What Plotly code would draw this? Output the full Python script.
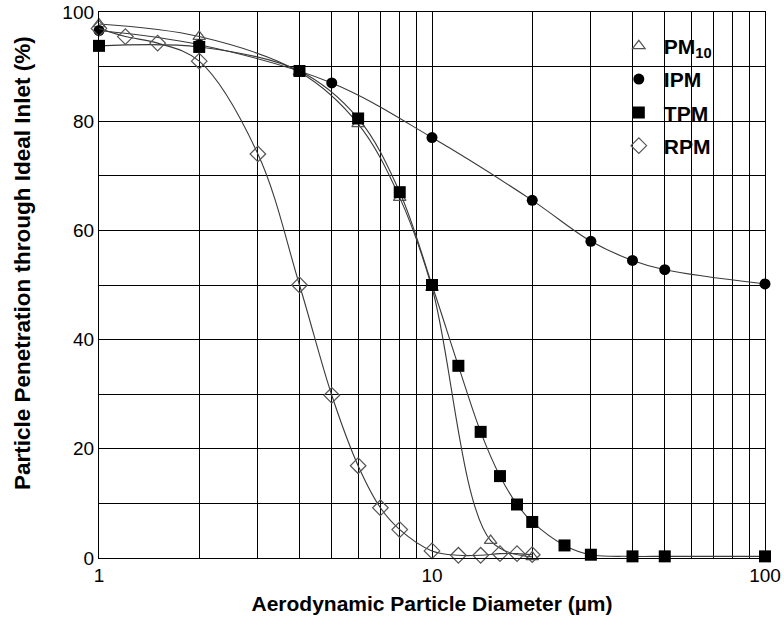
import plotly.graph_objects as go

# ---- data ----
pm10_x = [1, 2, 4, 6, 8, 10, 15, 20]
pm10_y = [97.8, 95.5, 89, 79.5, 66, 49.5, 3.2, 0.2]

ipm_x = [1, 2, 5, 10, 20, 30, 40, 50, 100]
ipm_y = [96.6, 94, 87, 77, 65.5, 58, 54.5, 52.8, 50.2]

tpm_x = [1, 2, 4, 6, 8, 10, 12, 14, 16, 18, 20, 25, 30, 40, 50, 100]
tpm_y = [93.8, 93.6, 89.2, 80.5, 67, 50, 35.2, 23.1, 15, 9.8, 6.6, 2.3, 0.6, 0.3, 0.3, 0.3]

rpm_x = [1, 1.2, 1.5, 2, 3, 4, 5, 6, 7, 8, 10, 12, 14, 16, 18, 20]
rpm_y = [97, 95.5, 94.3, 91, 74, 50, 29.8, 16.9, 9.2, 5.2, 1.3, 0.5, 0.5, 0.8, 0.8, 0.6]

series_names = ["PM<sub>10</sub>", "IPM", "TPM", "RPM"]

x_ticks = [1, 10, 100]
x_minor = [2, 3, 4, 5, 6, 7, 8, 9, 20, 30, 40, 50, 60, 70, 80, 90]

x_title = "Aerodynamic Particle Diameter (µm)"
y_title = "Particle Penetration through Ideal Inlet (%)"

LINE = "#3a3a3a"
OPEN = "#555555"

styles = [
    dict(symbol="triangle-up-open", size=11, color=OPEN, line=dict(color=OPEN, width=1.2)),
    dict(symbol="circle", size=11, color="black", line=dict(color="black", width=0)),
    dict(symbol="square", size=12, color="black", line=dict(color="black", width=0)),
    dict(symbol="diamond-open", size=12, color=OPEN, line=dict(color=OPEN, width=1.2)),
]

data = [(pm10_x, pm10_y), (ipm_x, ipm_y), (tpm_x, tpm_y), (rpm_x, rpm_y)]

fig = go.Figure()
for (xs, ys), st in zip(data, styles):
    fig.add_trace(go.Scatter(
        x=xs, y=ys, mode="lines+markers",
        line=dict(color=LINE, width=1.1, shape="spline", smoothing=1),
        marker=st, showlegend=False, cliponaxis=False,
    ))

for i, (name, st) in enumerate(zip(series_names, styles)):
    fig.add_trace(go.Scatter(
        x=[None], y=[None], mode="markers", name=name,
        marker=st, showlegend=True, legendgroup=f"g{i}",
    ))

fig.update_layout(
    width=784, height=622,
    margin=dict(l=99, r=19, t=12, b=64),
    paper_bgcolor="white", plot_bgcolor="white",
    font=dict(family="Liberation Sans, Arial, sans-serif", color="black"),
    legend=dict(
        x=0.773, y=0.975, xanchor="left", yanchor="top",
        bgcolor="rgba(0,0,0,0)", borderwidth=0,
        font=dict(size=21, family="Liberation Sans, Arial, sans-serif", weight="bold"),
        traceorder="grouped", tracegroupgap=3, itemwidth=40,
    ),
    xaxis=dict(
        type="log", range=[0, 2], automargin=False,
        tickvals=x_ticks, ticktext=[str(v) for v in x_ticks],
        tickfont=dict(size=19),
        showgrid=True, gridcolor="black", gridwidth=1.3,
        minor=dict(tickvals=x_minor, showgrid=True, gridcolor="black", gridwidth=1.3, ticks=""),
        showline=True, linecolor="black", linewidth=1.3, mirror=True,
        ticks="", zeroline=False,
        title=dict(text=f"<b>{x_title}</b>", font=dict(size=21), standoff=11),
    ),
    yaxis=dict(
        range=[0, 100], dtick=20, tick0=0, automargin=False,
        tickfont=dict(size=19),
        showgrid=True, gridcolor="black", gridwidth=1.3,
        minor=dict(dtick=10, showgrid=True, gridcolor="black", gridwidth=1.3, ticks=""),
        showline=True, linecolor="black", linewidth=1.3, mirror=True,
        ticks="", zeroline=False,
    ),
    annotations=[dict(
        text=f"<b>{y_title}</b>", textangle=-90,
        xref="paper", yref="paper",
        x=-99 / 666 + 22 / 666, y=(558 - 263) / 546,
        xanchor="center", yanchor="middle", showarrow=False,
        font=dict(size=22.5),
    )],
)

fig.write_html("out.html")
